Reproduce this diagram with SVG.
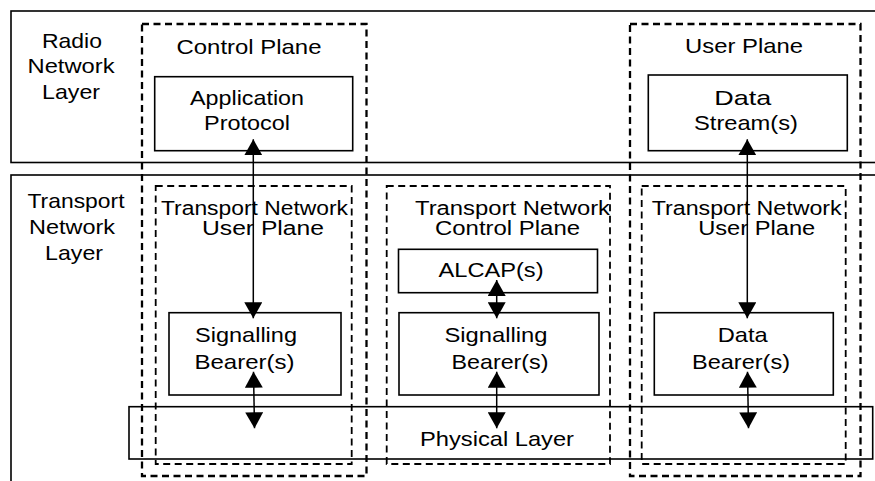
<svg xmlns="http://www.w3.org/2000/svg" width="875" height="481" viewBox="0 0 875 481">
<style>
  .bg { fill: #ffffff; }
  .layer { fill: none; stroke: #000; stroke-width: 1.6; }
  .plane { fill: none; stroke: #000; stroke-width: 2.3; stroke-dasharray: 7 4.5; }
  .tn { fill: none; stroke: #000; stroke-width: 1.8; stroke-dasharray: 7 4.5; }
  .box { fill: none; stroke: #000; stroke-width: 1.6; }
  .conn { stroke: #000; stroke-width: 1.5; fill: none; marker-start: url(#ah); marker-end: url(#ah); }
  text { font-family: "Liberation Sans", Arial, sans-serif; font-size: 21px; fill: #000; text-anchor: middle; }
  .tight { font-size: 20px; }
</style>
<defs>
  <marker id="ah" viewBox="0 0 16 18" refX="16" refY="9" markerWidth="16" markerHeight="18" markerUnits="userSpaceOnUse" orient="auto-start-reverse">
    <path d="M0,0 L16,9 L0,18 Z" fill="#000"/>
  </marker>
</defs>
<rect class="bg" x="0" y="0" width="875" height="481"/>

<g id="radio-network-layer">
  <rect class="layer" x="11" y="11" width="880" height="151.5"/>
  <text x="72" y="47.5" textLength="60" lengthAdjust="spacingAndGlyphs">Radio</text>
  <text x="71" y="73" textLength="87" lengthAdjust="spacingAndGlyphs">Network</text>
  <text x="71" y="99" textLength="58" lengthAdjust="spacingAndGlyphs">Layer</text>
</g>

<g id="transport-network-layer">
  <rect class="layer" x="11" y="175" width="880" height="320"/>
  <text x="76" y="207.5" textLength="97" lengthAdjust="spacingAndGlyphs">Transport</text>
  <text x="72" y="233.5" textLength="86" lengthAdjust="spacingAndGlyphs">Network</text>
  <text x="74" y="260" textLength="58" lengthAdjust="spacingAndGlyphs">Layer</text>
</g>

<g id="control-plane">
  <rect class="plane" x="142" y="24" width="224.5" height="452"/>
  <text x="249" y="53.5" textLength="145" lengthAdjust="spacingAndGlyphs">Control Plane</text>
</g>

<g id="user-plane">
  <rect class="plane" x="630" y="24" width="230.5" height="452"/>
  <text x="744" y="53" textLength="118" lengthAdjust="spacingAndGlyphs">User Plane</text>
</g>

<g id="application-protocol">
  <rect class="box" x="154.7" y="76.7" width="198" height="74"/>
  <text x="247" y="104.5" textLength="114" lengthAdjust="spacingAndGlyphs">Application</text>
  <text x="247" y="130" textLength="86" lengthAdjust="spacingAndGlyphs">Protocol</text>
</g>

<g id="data-streams">
  <rect class="box" x="648.3" y="75" width="199" height="75.7"/>
  <text x="742.7" y="104.5" textLength="57" lengthAdjust="spacingAndGlyphs">Data</text>
  <text x="746" y="130" textLength="104" lengthAdjust="spacingAndGlyphs">Stream(s)</text>
</g>

<g id="tn-user-plane-left">
  <rect class="tn" x="155.7" y="186" width="196" height="278"/>
  <text class="tight" x="254.5" y="215" textLength="187" lengthAdjust="spacingAndGlyphs">Transport Network</text>
  <text class="tight" x="263" y="235" textLength="122" lengthAdjust="spacingAndGlyphs">User Plane</text>
</g>

<g id="tn-control-plane">
  <rect class="tn" x="386.7" y="186" width="223.3" height="278"/>
  <text class="tight" x="512.5" y="215" textLength="195" lengthAdjust="spacingAndGlyphs">Transport Network</text>
  <text class="tight" x="507.5" y="235" textLength="145" lengthAdjust="spacingAndGlyphs">Control Plane</text>
</g>

<g id="tn-user-plane-right">
  <rect class="tn" x="641.7" y="186" width="204" height="278"/>
  <text class="tight" x="746.7" y="215" textLength="190" lengthAdjust="spacingAndGlyphs">Transport Network</text>
  <text class="tight" x="756.7" y="235" textLength="117" lengthAdjust="spacingAndGlyphs">User Plane</text>
</g>

<g id="alcap">
  <rect class="box" x="398.5" y="249.3" width="199" height="43.4"/>
  <text x="491" y="277" textLength="105" lengthAdjust="spacingAndGlyphs">ALCAP(s)</text>
</g>

<g id="signalling-bearer-left">
  <rect class="box" x="169" y="312.7" width="172" height="82.3"/>
  <text x="246" y="341.5" textLength="102" lengthAdjust="spacingAndGlyphs">Signalling</text>
  <text x="244.5" y="368.5" textLength="100" lengthAdjust="spacingAndGlyphs">Bearer(s)</text>
</g>

<g id="signalling-bearer-middle">
  <rect class="box" x="399" y="312.7" width="200" height="82.3"/>
  <text x="496" y="341.5" textLength="103" lengthAdjust="spacingAndGlyphs">Signalling</text>
  <text x="500" y="368.5" textLength="97" lengthAdjust="spacingAndGlyphs">Bearer(s)</text>
</g>

<g id="data-bearer">
  <rect class="box" x="654.3" y="312.7" width="179" height="82.3"/>
  <text x="742.7" y="341.5" textLength="50" lengthAdjust="spacingAndGlyphs">Data</text>
  <text x="741" y="368.5" textLength="98" lengthAdjust="spacingAndGlyphs">Bearer(s)</text>
</g>

<g id="physical-layer">
  <rect class="box" x="129" y="406.7" width="743.7" height="52.3"/>
  <text x="497" y="446" textLength="154" lengthAdjust="spacingAndGlyphs">Physical Layer</text>
</g>

<g id="connectors">
  <line class="conn" x1="253.3" y1="139.3" x2="253.3" y2="318.3"/>
  <line class="conn" x1="253.5" y1="371.7" x2="254.5" y2="428.3"/>
  <line class="conn" x1="496.7" y1="280" x2="496.7" y2="318.3"/>
  <line class="conn" x1="496.7" y1="371.7" x2="496.7" y2="428.3"/>
  <line class="conn" x1="747.3" y1="139.3" x2="747.3" y2="318.3"/>
  <line class="conn" x1="747.5" y1="371.7" x2="748.5" y2="428.3"/>
</g>
</svg>
